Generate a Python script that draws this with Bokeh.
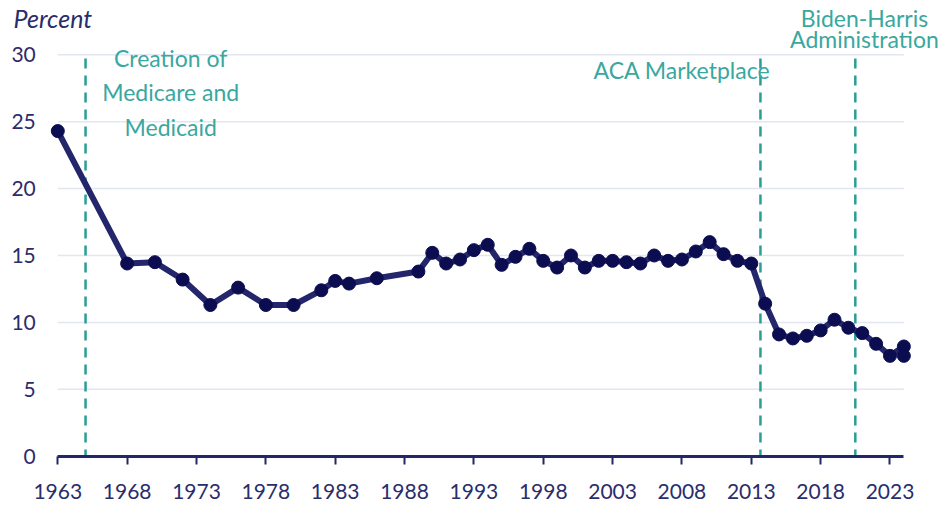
from bokeh.plotting import figure
from bokeh.models import Range1d, FixedTicker, Label
from bokeh.core.properties import value
from bokeh.embed import file_html
from bokeh.resources import INLINE

# ---- data ----
years = [1963, 1968, 1970, 1972, 1974, 1976, 1978, 1980, 1982, 1983, 1984, 1986,
         1989, 1990, 1991, 1992, 1993, 1994, 1995, 1996, 1997, 1998, 1999, 2000,
         2001, 2002, 2003, 2004, 2005, 2006, 2007, 2008, 2009, 2010, 2011, 2012,
         2013, 2014, 2015, 2016, 2017, 2018, 2019, 2020, 2021, 2022, 2023, 2024, 2024]
uninsured = [24.3, 14.4, 14.5, 13.2, 11.3, 12.6, 11.3, 11.3, 12.4, 13.1, 12.9, 13.3,
             13.8, 15.2, 14.4, 14.7, 15.4, 15.8, 14.3, 14.9, 15.5, 14.6, 14.1, 15.0,
             14.1, 14.6, 14.6, 14.5, 14.4, 15.0, 14.6, 14.7, 15.3, 16.0, 15.1, 14.6,
             14.4, 11.4, 9.1, 8.8, 9.0, 9.4, 10.2, 9.6, 9.2, 8.4, 7.5, 8.2, 7.5]

x_ticks = [1963, 1968, 1973, 1978, 1983, 1988, 1993, 1998, 2003, 2008, 2013, 2018, 2023]
y_ticks = [0, 5, 10, 15, 20, 25, 30]
y_tick_labels = ["0", "5", "10", "15", "20", "25", "30"]
grid_vals = [5, 10, 15, 20, 25, 30]

event_years = [1965, 2013.66, 2020.5]
event_top = [29.72, 29.72, 29.72]

NAVY = "#23266a"
NAVY_DARK = "#0b0d50"
TEXT_NAVY = "#2a2d6b"
TEAL = "#2a9d96"
TEAL_TEXT = "#3aa7a0"
GRID = "#e1e6f0"
FONT = "Lato"

p = figure(width=943, height=507, output_backend="svg", toolbar_location=None,
           x_range=Range1d(1958.869, 2026.858), y_range=Range1d(-3.834, 34.058),
           y_axis_location=None,
           min_border_left=0, min_border_right=0, min_border_top=0,
           min_border_bottom=0)
p.outline_line_color = None
p.background_fill_color = "white"
p.border_fill_color = "white"
p.xgrid.grid_line_color = None
p.ygrid.grid_line_color = None

# horizontal grid lines limited to the data span
p.segment(x0=[years[0]] * len(grid_vals), y0=grid_vals,
          x1=[years[-1]] * len(grid_vals), y1=grid_vals,
          line_color=GRID, line_width=1.5)

# event dashed lines
p.segment(x0=event_years, y0=event_top, x1=event_years, y1=[0] * len(event_years),
          line_color=TEAL, line_width=2.5, line_dash="10 7")

# series
p.line(years, uninsured, line_color=NAVY, line_width=6, line_join="round")
p.scatter(years, uninsured, size=13, fill_color=NAVY_DARK, line_color=NAVY_DARK)

# y tick labels (drawn at the left end of the grid)
p.text(x=[years[0]] * len(y_ticks), y=y_ticks, text=y_tick_labels, x_offset=-22,
       text_align="right", text_baseline="middle", text_font=value(FONT),
       text_font_size="21px", text_color=TEXT_NAVY)

# x axis, pinned at y = 0
xa = p.xaxis[0]
xa.fixed_location = 0
xa.ticker = FixedTicker(ticks=x_ticks)
xa.bounds = (years[0], years[-1])
xa.axis_line_color = NAVY
xa.axis_line_width = 3
xa.major_tick_line_color = NAVY
xa.major_tick_line_width = 2
xa.major_tick_out = 8
xa.major_tick_in = 0
xa.minor_tick_line_color = None
xa.major_label_text_font = FONT
xa.major_label_text_font_size = "21px"
xa.major_label_text_color = TEXT_NAVY
xa.major_label_standoff = 20

# texts
def add_label(x, y, text, color, align="center", style="normal", size="23px"):
    p.add_layout(Label(x=x, y=y, text=text, text_color=color, text_font=FONT,
                       text_font_size=size, text_align=align, text_baseline="alphabetic",
                       text_font_style=style))

add_label(1959.81, 32.78, "Percent", TEXT_NAVY, align="left", style="italic", size="25px")
add_label(1971.14, 29.73, "Creation of", TEAL_TEXT)
add_label(1971.14, 27.21, "Medicare and", TEAL_TEXT)
add_label(1971.14, 24.59, "Medicaid", TEAL_TEXT)
add_label(2008.0, 28.90, "ACA Marketplace", TEAL_TEXT)
add_label(2021.16, 32.76, "Biden-Harris", TEAL_TEXT)
add_label(2021.16, 31.16, "Administration", TEAL_TEXT)

open("out.html", "w").write(file_html(p, INLINE))
